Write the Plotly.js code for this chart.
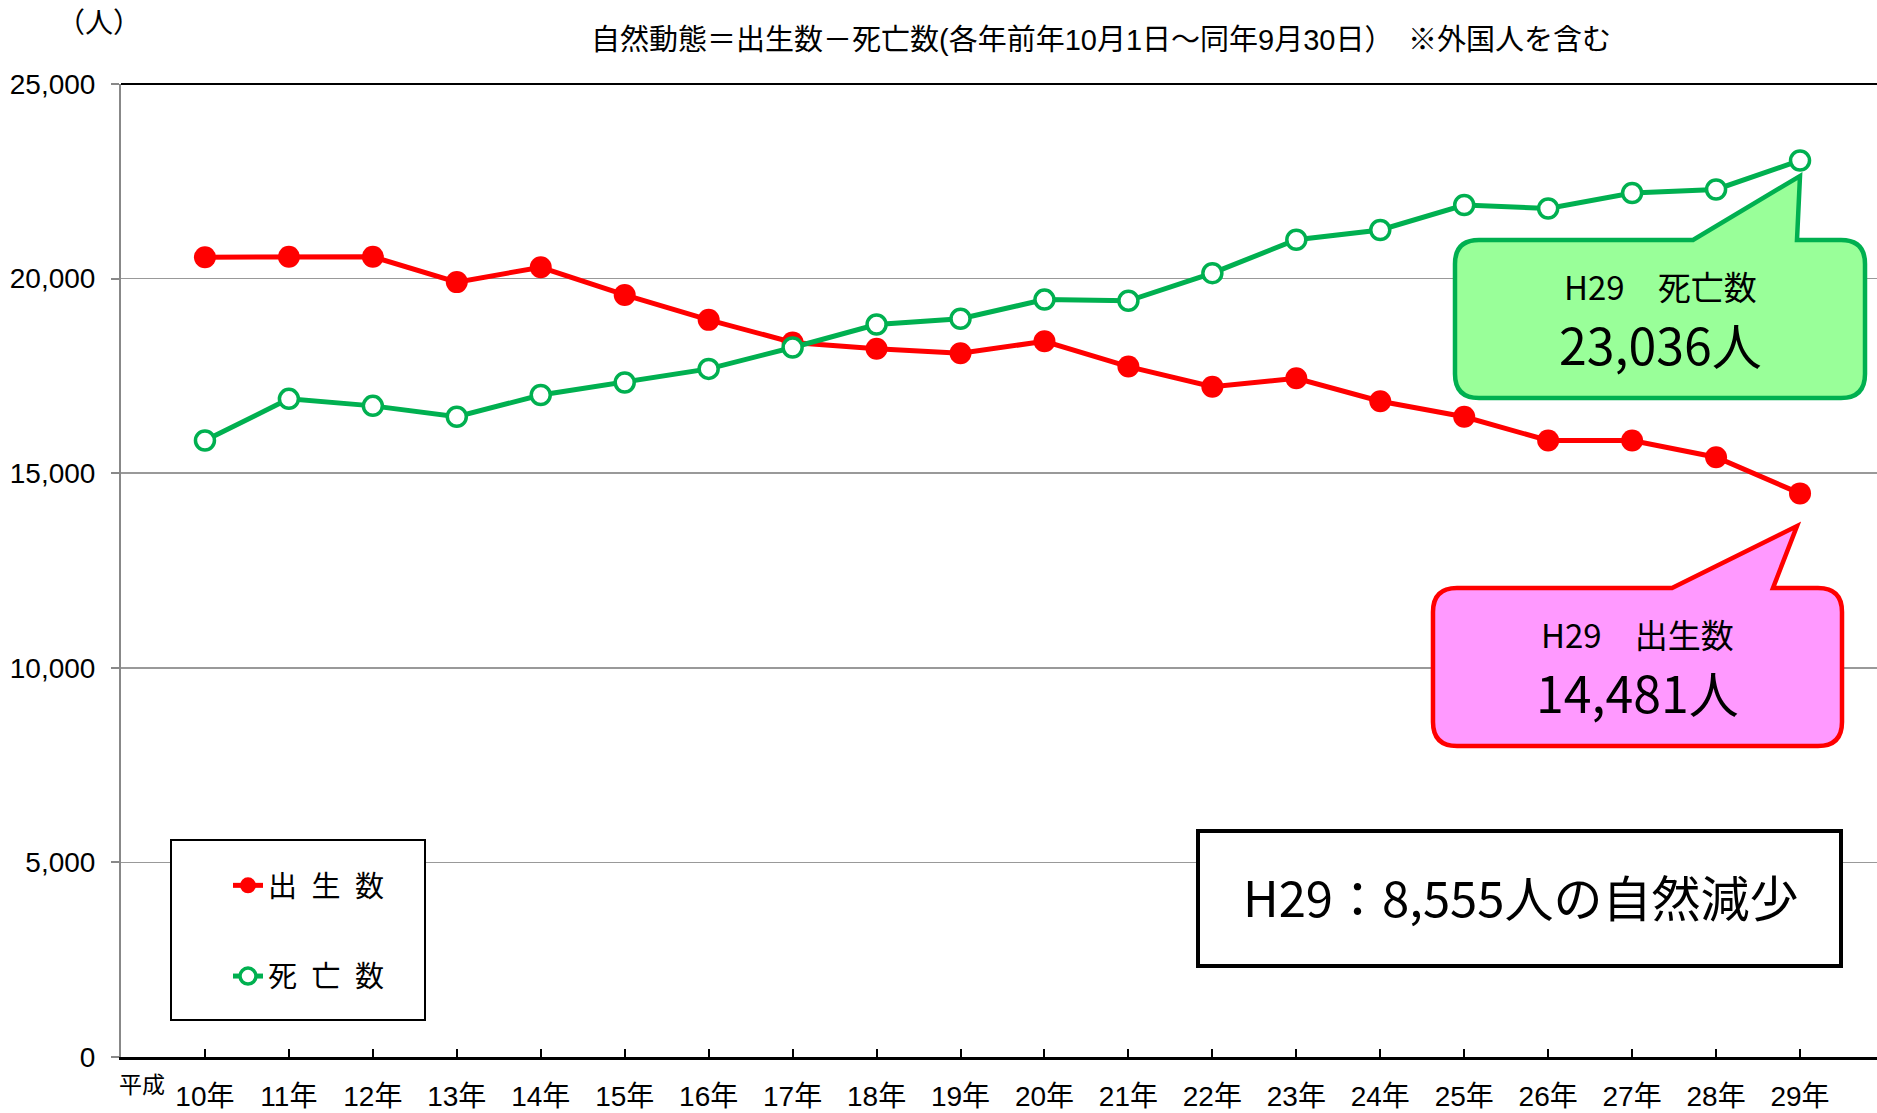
<!DOCTYPE html>
<html>
<head>
<meta charset="utf-8">
<script src="https://cdn.plot.ly/plotly-3.0.1.min.js"></script>
<style>
html,body{margin:0;padding:0;background:#fff;}
#chart{width:1877px;height:1113px;}
</style>
</head>
<body>
<div id="chart"></div>
<script>
// ---- data ----
const years = ["10年","11年","12年","13年","14年","15年","16年","17年","18年","19年","20年","21年","22年","23年","24年","25年","26年","27年","28年","29年"];
const births = [20550,20560,20560,19910,20290,19580,18940,18360,18200,18080,18390,17740,17220,17440,16850,16450,15840,15840,15410,14481];
const deaths = [15840,16910,16730,16450,17010,17330,17680,18230,18820,18970,19460,19430,20140,21000,21250,21890,21800,22200,22290,23036];
const seriesNames = ["出\u2002生\u2002数","死\u2002亡\u2002数"];
const titleText = "自然動態＝出生数－死亡数(各年前年10月1日～同年9月30日）\u3000※外国人を含む";
const unitText = "（人）";
const eraText = "平成";
const deathNote = ["H29\u3000死亡数","23,036人"];
const birthNote = ["H29\u3000出生数","14,481人"];
const summaryText = "H29：8,555人の自然減少";

// ---- layout helpers (pixel -> paper) ----
const W = 1877, H = 1113;
const M = {l:121, r:0, t:84, b:56};
const PW = W - M.l - M.r, PH = H - M.t - M.b;
const px = x => (x - M.l) / PW;
const py = y => (H - M.b - y) / PH;

function callout(L, T, R, B, r, tail) {
  // tail: [baseLeftX, tipX, tipY, baseRightX]
  const P = (x, y) => px(x).toFixed(5) + "," + py(y).toFixed(5);
  let d = "M" + P(L + r, T);
  d += " L" + P(tail[0], T) + " L" + P(tail[1], tail[2]) + " L" + P(tail[3], T);
  d += " L" + P(R - r, T) + " Q" + P(R, T) + " " + P(R, T + r);
  d += " L" + P(R, B - r) + " Q" + P(R, B) + " " + P(R - r, B);
  d += " L" + P(L + r, B) + " Q" + P(L, B) + " " + P(L, B - r);
  d += " L" + P(L, T + r) + " Q" + P(L, T) + " " + P(L + r, T) + " Z";
  return d;
}

const latin = "Liberation Sans, Noto Sans CJK JP, sans-serif";
const cjk = "Noto Sans CJK JP, sans-serif";

const traces = [
  {
    type: "scatter", mode: "lines+markers", name: seriesNames[0],
    x: years, y: births, legendgroup: "a",
    line: {color: "#FF0000", width: 5},
    marker: {color: "#FF0000", size: 22, line: {width: 0}},
    cliponaxis: false
  },
  {
    type: "scatter", mode: "lines+markers", name: seriesNames[1],
    x: years, y: deaths, legendgroup: "b",
    line: {color: "#00B050", width: 5},
    marker: {color: "#FFFFFF", size: 19, line: {color: "#00B050", width: 3.5}},
    cliponaxis: false
  }
];

const shapes = [
  // top frame line
  {type: "line", xref: "paper", yref: "paper", x0: 0, x1: 1, y0: 1, y1: 1, line: {color: "#000", width: 2}, layer: "above"},
  // legend box
  {type: "rect", xref: "paper", yref: "paper", x0: px(171), x1: px(425), y0: py(840), y1: py(1020),
   fillcolor: "#FFFFFF", line: {color: "#000", width: 2}, layer: "above"},
  // summary box
  {type: "rect", xref: "paper", yref: "paper", x0: px(1198), x1: px(1841), y0: py(831), y1: py(966),
   fillcolor: "#FFFFFF", line: {color: "#000", width: 4}, layer: "above"},
  // green callout
  {type: "path", xref: "paper", yref: "paper", path: callout(1455, 240, 1865, 398, 24, [1693, 1800, 176, 1797]),
   fillcolor: "#99FF99", line: {color: "#00B050", width: 4.5}, layer: "above"},
  // pink callout
  {type: "path", xref: "paper", yref: "paper", path: callout(1433, 588, 1842, 746, 24, [1672, 1797, 526, 1773]),
   fillcolor: "#FF99FF", line: {color: "#FF0000", width: 4.5}, layer: "above"}
];

const ann = (x, y, text, size, family, extra) => Object.assign({
  xref: "paper", yref: "paper", x: px(x), y: py(y), text: text, showarrow: false,
  xanchor: "center", yanchor: "middle", font: {size: size, family: family, color: "#000"}
}, extra || {});

const annotations = [
  ann(99, 24, unitText, 28, latin),
  ann(142, 1085, eraText, 23, latin),
  ann(1660, 286, deathNote[0], 33, cjk),
  ann(1660, 343, deathNote[1], 50, cjk),
  ann(1637, 634, birthNote[0], 33, cjk),
  ann(1637, 691, birthNote[1], 50, cjk),
  ann(1520, 895, summaryText, 49, cjk)
];

const layout = {
  width: W, height: H,
  margin: M,
  paper_bgcolor: "#FFFFFF", plot_bgcolor: "#FFFFFF",
  title: {text: titleText, x: 1101 / W, xref: "container", xanchor: "center",
          y: 1 - 40 / H, yref: "container", yanchor: "middle",
          font: {size: 29, family: latin, color: "#000"}},
  showlegend: true,
  legend: {x: px(228), y: py(860), xanchor: "left", yanchor: "top", bgcolor: "rgba(0,0,0,0)",
           borderwidth: 0, traceorder: "grouped", tracegroupgap: 50,
           font: {size: 29, family: cjk, color: "#000"}},
  xaxis: {type: "category", range: [-1, 19.917], showgrid: false, zeroline: false,
          showline: true, linecolor: "#000", linewidth: 3,
          ticks: "inside", ticklen: 8, tickwidth: 2, tickcolor: "#000",
          ticklabelstandoff: 12,
          tickfont: {size: 28, family: latin, color: "#000"}, fixedrange: true},
  yaxis: {range: [0, 25000], dtick: 5000, tick0: 0, tickformat: ",d",
          showgrid: true, gridcolor: "#999999", gridwidth: 1.5, zeroline: false,
          showline: true, linecolor: "#888888", linewidth: 2,
          ticks: "outside", ticklen: 8, tickwidth: 2, tickcolor: "#888888",
          ticklabelstandoff: 10,
          tickfont: {size: 28, family: latin, color: "#000"}, fixedrange: true},
  shapes: shapes,
  annotations: annotations
};

Plotly.newPlot("chart", traces, layout, {displayModeBar: false, staticPlot: true});
</script>
</body>
</html>
